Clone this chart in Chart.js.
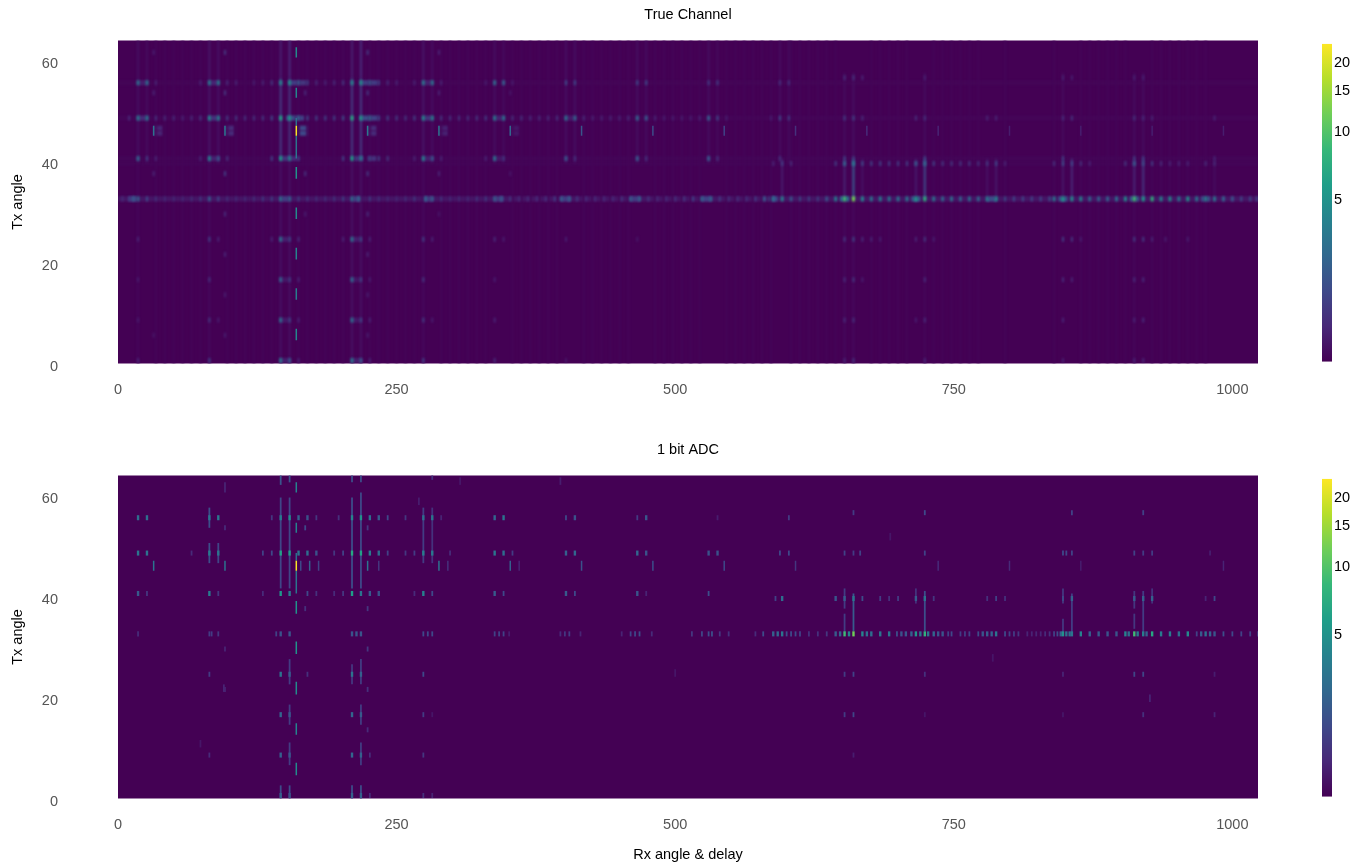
<!DOCTYPE html>
<html><head><meta charset="utf-8">
<script src="https://cdn.jsdelivr.net/npm/chart.js@4"></script>
<style>
html,body{margin:0;padding:0;background:#fff;width:1368px;height:867px;overflow:hidden}
.c{position:absolute}
</style></head><body>
<div class="c" style="left:0;top:0;width:1290px;height:430px"><canvas id="a"></canvas></div>
<div class="c" style="left:0;top:435px;width:1290px;height:432px"><canvas id="b"></canvas></div>
<div class="c" style="left:1290px;top:0;width:78px;height:400px"><canvas id="ca"></canvas></div>
<div class="c" style="left:1290px;top:435px;width:78px;height:400px"><canvas id="cb"></canvas></div>
<script>
// ---------- axis content
const titleTrue = "True Channel";
const titleAdc = "1 bit ADC";
const xLabel = "Rx angle & delay";
const yLabel = "Tx angle";
const xTicks = [0,250,500,750,1000];
const yTicks = [0,20,40,60];
const cbarTicks = [5,10,15,20];
const cbarTickPos = [0.512,0.727,0.855,0.943];
const valueKnots = [0,1,2.5,5,10,15,20,23.5];
const posKnots = [0,0.2,0.36,0.512,0.727,0.855,0.943,1];
const viridis = ["#440154","#482878","#3e4989","#31688e","#26828e","#1f9e89","#35b779","#6ece58","#b5de2b","#fde725"];

// ---------- True Channel: [col,value,...] per Tx row
const trueRow33 = [4,.6,10,.9,14,1.6,18,1.8,26,1.2,34,.8,42,.7,50,.7,58,.7,66,.8,74,1,82,1.8,90,1.2,98,.8,106,.7,114,.7,122,.8,130,1,138,1.2,146,2.6,154,2,162,1.1,170,.9,178,.8,186,.8,194,.9,202,1.2,210,2.4,216,2,226,1,234,.8,242,.7,250,.7,258,.8,266,1,276,1.9,282,1.7,290,.9,298,.7,306,.7,314,.7,322,.9,330,1,338,1.7,344,1.6,352,.8,360,.6,368,.6,376,.6,384,.7,392,.9,398,1.8,405,1.8,412,.8,420,.6,428,.6,436,.6,444,.6,452,.8,460,1.8,468,1.9,476,.8,484,.6,492,.6,500,.7,508,.8,516,1,524,2,532,2,540,.9,548,.7,556,.7,564,.7,572,.9,580,1.6,588,2.4,596,3.6,604,1.6,612,1.4,620,1.2,628,1.1,636,1.5,644,3.5,652,9,660,12.5,668,4,676,3,684,3.5,692,3,700,3,708,3,716,5.5,724,8,732,2.8,740,2.2,748,2.6,756,2,764,2.4,772,2.2,780,3.2,788,4,796,1.4,804,1.2,812,1.2,820,1.2,828,1.2,836,1.4,840,3,848,5.5,856,4.5,864,4,872,2.2,880,2,888,2,896,2.5,904,4.5,912,9,920,5.5,928,8,936,4,944,4.5,952,3,960,5,968,3,976,3.5,984,2.8,992,2,1000,1.5,1008,1.3,1016,1.2,1022,1];
const trueRow49 = [10,.6,18,3,26,3,34,.7,42,.6,50,.6,58,.5,66,.6,74,.8,82,4,90,3.5,98,.9,106,.8,114,.7,122,.7,130,.8,138,1.2,146,6.5,154,5.5,162,2,170,1.2,178,1,186,1,194,1,202,1.3,210,7,218,5.5,226,2,234,1.2,242,1,250,.9,258,.8,266,1,274,4,282,3.5,290,.8,298,.7,306,.7,314,.7,322,.8,330,.9,338,3,346,2.5,354,.7,362,.7,370,.6,378,.6,386,.6,394,.7,402,2.5,410,2,418,.6,426,.5,434,.5,442,.5,450,.5,458,.6,466,2,474,1.6,482,.5,490,.4,498,.4,506,.4,514,.4,522,.5,530,1.8,538,1.2,546,.4,586,.4,594,1.2,602,.9,652,.9,660,1,668,.6,716,.6,724,.7,780,.5,788,.5,848,.6,856,.7,912,.7,920,.6,928,.5,984,.5];
const trueRow56 = [18,2.4,26,2.4,34,.5,74,.5,82,3,90,3,98,.6,106,.5,122,.4,130,.5,138,.8,146,3.8,154,4.5,162,1.5,170,1,178,.6,186,.5,194,.6,202,.8,210,3.8,218,4.5,226,1.5,234,1,242,.6,250,.5,266,.5,274,2.8,282,2.6,290,.5,330,.4,338,2.2,346,1.8,354,.4,402,1.2,410,1.2,466,1.2,474,1.2,530,.9,538,.9,594,.7,602,.7];
const trueRow57 = [652,.6,660,.7,668,.5,724,.4,848,.4,856,.4,912,.4,920,.4];
const trueRow41 = [18,2,26,.9,34,.5,74,.5,82,3.5,90,1.5,98,.7,138,1,146,5.5,154,3.5,162,1,202,1,210,6,218,3,226,1.3,234,1,242,.8,266,.5,274,3.5,282,1.5,290,.5,330,.5,338,2.5,346,.9,402,1.5,410,.7,466,1.6,474,.7,530,1.6,538,.7,594,.7,652,1,660,.9,724,1,848,.9,912,.9,920,.9,984,.5];
const trueRow40 = [588,.5,596,.9,604,.6,644,.9,652,1.8,660,2.5,668,1.2,676,1,684,1,692,.9,700,.9,708,.9,716,1.5,724,2,732,1,740,.8,748,.8,756,.8,764,.8,772,.7,780,.8,788,1,796,.5,840,.7,848,1.2,856,1,864,.7,872,.5,904,.8,912,1.5,920,1.3,928,.9,936,.6,944,.5,952,.5,960,.5,976,.6,984,.6];
const trueRow25 = [18,.5,82,1,90,.5,138,.5,146,2.6,154,1.3,162,.6,202,.5,210,2.6,218,1.3,226,.5,274,1,282,.5,338,.6,346,.4,402,.4,466,.3,652,.8,660,1.1,668,.6,676,.5,684,.4,716,.5,724,.8,732,.4,848,.9,856,.8,864,.4,912,.9,920,.9,928,.5,940,.4,960,.4];
const trueRow17 = [18,.35,82,.7,146,2,154,1,162,.5,210,2.2,218,1.1,226,.4,274,.8,338,.4,652,.6,660,.8,668,.4,724,.6,848,.6,856,.5,912,.6,920,.6];
const trueRow9 = [18,.35,82,.8,90,.4,146,2.4,154,1.2,162,.5,210,2.4,218,1.2,226,.5,274,.9,282,.4,338,.5,652,.6,660,.7,716,.4,724,.6,848,.5,912,.5,920,.6];
const trueRow1 = [18,.5,82,1,146,3,154,1.5,162,.5,210,3,218,1.6,226,.5,274,1,338,.6,402,.3,652,.5,660,.7,724,.5,848,.4,912,.5,920,.5];
const trueRow62 = [32,.4,96,.8,224,.8,288,.5];
const trueRow54 = [32,.5,96,.8,168,.6,224,.8,288,.5,352,.3];
const trueRow38 = [32,.5,96,.9,168,.7,224,.8,288,.5,352,.3];
const trueRow30 = [96,.6,168,.4,224,.6,288,.3];
const trueRow22 = [96,.5,224,.5];
const trueRow14 = [96,.4,224,.4];
const trueRow6 = [32,.3,96,.4,224,.4];
const trueRows = [[33,trueRow33],[49,trueRow49],[56,trueRow56],[57,trueRow57],[41,trueRow41],[40,trueRow40],[25,trueRow25],[17,trueRow17],[9,trueRow9],[1,trueRow1],[62,trueRow62],[54,trueRow54],[38,trueRow38],[30,trueRow30],[22,trueRow22],[14,trueRow14],[6,trueRow6]];
// narrow marks: [col,rowLow,rowHigh,value]
const trueFine = [[160,45.5,47.5,23],[160,41,45.5,3],[160,47.5,49,2.5],[160,61,63,4.5],[160,53,55,4.2],[160,37,39.3,5],[160,29,31.3,4.5],[160,21,23.3,4],[160,13,15.3,3.6],[160,5,7.3,4.2],[32,45.5,47.5,2.8],[96,45.5,47.5,3.2],[224,45.5,47.5,3.2],[288,45.5,47.5,2.8],[352,45.5,47.5,2.2],[416,45.5,47.5,1.6],[480,45.5,47.5,1.3],[544,45.5,47.5,1],[608,45.5,47.5,.7],[672,45.5,47.5,.6],[736,45.5,47.5,.5],[800,45.5,47.5,.4],[864,45.5,47.5,.4],[928,45.5,47.5,.4],[992,45.5,47.5,.4]];
const trueStreaks = [[146,41,57,.8],[154,41,57,.75],[210,41,57,.8],[218,41,57,.8],[146,57,65,.4],[154,57,65,.55],[210,57,65,.4],[218,57,65,.55],[146,0,41,.22],[154,0,41,.22],[210,0,41,.22],[218,0,41,.22],[18,40,65,.18],[26,40,65,.15],[82,40,65,.28],[90,40,65,.22],[274,40,65,.28],[282,40,65,.18],[338,40,65,.18],[346,40,65,.14],[402,40,65,.18],[410,40,65,.18],[466,40,65,.18],[474,40,65,.15],[530,40,65,.18],[538,40,65,.13],[594,40,65,.16],[602,40,65,.13],[18,0,40,.07],[82,0,40,.12],[274,0,40,.12],[660,33,41,1.6],[652,33,41,.45],[724,33,41,1.1],[716,33,41,.32],[848,33,41,.28],[856,33,41,.5],[912,33,41,.5],[920,33,41,.7],[596,33,41,.35],[668,33,41,.22],[788,33,41,.3],[780,33,41,.22],[984,33,41,.16],[660,41,58,.18],[652,41,58,.16],[724,41,58,.16],[848,41,58,.14],[912,41,58,.16],[920,41,58,.16],[652,0,33,.12],[660,0,33,.12],[724,0,33,.08],[912,0,33,.08]];
const trueFaintCols = [34,42,50,58,66,74,98,106,114,122,130,138,162,170,178,186,194,202,226,234,242,250,258,266,290,298,306,314,322,330,354,362,370,378,386,394,418,426,434,442,450,458,482,490,498,506,514,522,546,554,562,570,578,586,604,612,620,628,636,644,676,684,692,700,708,732,740,748,756,764,772,796,840,864,872,880,888,896,904,928,936,944,952,960,968,976];
// wide soft blocks: [col,row,value]
const trueGlow = [[155,49,1.4],[163,49,1],[222,49,1.3],[230,49,1],[22,49,.6],[86,49,.7],[278,49,.7],[342,49,.45],[406,49,.35],[158,56,.9],[166,56,.8],[222,56,.9],[230,56,.9],[22,56,.4],[86,56,.5],[278,56,.45],[150,41,.7],[158,41,.55],[216,41,.7],[228,41,.7],[86,41,.45],[278,41,.4],[342,41,.3],[166,46,1.2],[166,47,1.2],[36,46,.5],[36,47,.5],[100,46,.6],[100,47,.6],[228,46,.6],[228,47,.6],[292,46,.45],[292,47,.45],[356,46,.3],[356,47,.3],[14,33,.9],[150,33,.9],[214,33,.9],[278,33,.8],[342,33,.8],[402,33,.9],[464,33,.9],[528,33,1],[588,33,1.2],[652,33,2.6],[716,33,1.8],[784,33,1.3],[848,33,1.5],[912,33,1.8],[976,33,1.4],[150,25,.4],[214,25,.4],[150,17,.28],[214,17,.28],[150,9,.32],[214,9,.32],[150,1,.4],[214,1,.4]];
// whole-row faint bands: [row,value]
const trueBands = [[33,.3],[49,.06],[56,.05],[41,.05],[40,.04]];

// ---------- 1 bit ADC
const adcRow33 = [18,.6,82,.9,84,.9,90,.8,142,1,146,1.5,154,1.6,210,1.6,214,1.6,218,1.6,274,1.2,278,1.2,282,1.2,338,1,342,1,346,1,351,.4,397,.6,401,.8,405,.9,415,.5,452,.5,460,1,464,1.1,468,1.3,479,.6,515,.8,524,1.1,530,1.3,533,1.4,540,.8,548,.7,572,.6,579,1.3,588,2,592,2.2,596,3,600,1.4,604,1.2,608,1.2,612,1,620,.7,628,.7,636,.8,644,1.8,648,2,652,9,656,4,660,12,668,4,672,2.5,676,2.5,684,3,692,3,699,1.4,703,1.5,707,1.6,712,2,716,5,720,3,724,8,727,3,732,2.2,736,1.6,740,1.6,745,1,748,1.2,756,.9,760,.9,764,1,772,1.3,776,1.6,780,1.8,784,2,788,3,796,1.2,800,1,804,.9,808,.8,816,.5,820,.5,824,.5,828,.5,832,.6,836,.7,840,1,843,1.3,846,2,848,5,851,2.5,854,2.5,856,3,864,4,872,2,880,1.8,888,1.6,896,1.6,904,4,907,2.5,912,9,915,3.5,920,3.5,923,2,928,7,936,3.5,944,3.5,952,2.5,960,4.5,968,1,972,1.8,976,2.5,980,2,984,1.6,992,1.4,1000,1.2,1008,1,1016,1,1023,.8];
const adcRow56 = [18,2.5,26,2.5,82,3,90,3.2,138,.8,146,3.5,154,4.5,162,2,170,1.5,178,.8,198,.7,210,4,218,5,226,2.5,234,1.8,242,1.2,258,.8,274,2.5,282,3,290,.5,338,2.2,346,3,402,1.2,410,1.5,466,.9,474,1.6,538,.4,602,.9];
const adcRow49 = [18,3,26,2.8,66,.6,82,3.5,90,3,130,1,138,1.2,146,6.5,154,6,162,3,170,2.5,178,1.5,194,.8,202,1,210,7,218,6.5,226,3.5,234,2.5,242,1,258,.8,266,.9,274,3.5,282,3.2,298,.6,338,3,346,2.5,354,.9,402,2,410,2.2,466,2.2,474,1.5,530,1.5,538,1.5,594,1.2,602,1.2,652,1,660,.9,666,1,724,1,848,1.2,851,1.1,856,1,912,1,920,.9,928,.9,980,.4];
const adcRow41 = [18,1.8,26,.8,82,3.5,90,.8,130,.6,146,5.5,154,3.5,170,1.2,178,.7,194,.6,202,.8,210,6,218,3,226,1.8,234,1.5,266,.6,274,3.8,282,1.2,338,1.8,346,1.2,402,1.8,410,1.2,466,1.6,474,.5,530,1.4];
const adcRow40 = [590,1,596,2.5,644,1.6,652,1.8,660,3,668,1.3,684,.9,692,.7,700,.9,716,1.8,724,2.8,732,.8,780,.7,788,1,796,.7,848,1.2,856,2,912,1.8,920,2,928,2,976,.5,984,1.2];
const adcRow25 = [82,.9,146,3,154,1.8,170,.7,210,2.8,218,2,274,1.2,652,.9,660,1,724,.7,848,.5,912,1.1,920,1.1,984,.4];
const adcRow17 = [146,2.2,154,1.6,210,2.2,218,1.8,274,.9,282,.3,652,.9,660,1.1,724,.3,848,.3,920,.7,984,.5];
const adcRow9 = [82,.6,146,2,154,1.6,210,2.2,218,2,226,.6,274,.8,660,.4];
const adcRow1 = [146,2,154,1.5,210,2,218,2,226,.6,274,.7,282,.5];
const adcRow57 = [660,.9,724,1.2,856,1,920,1];
const adcRow30 = [96,.5,224,.8];
const adcRow22 = [96,.5,224,.7];
const adcRow14 = [224,.6];
const adcRow54 = [168,1.2,96,.6,224,.8];
const adcRow38 = [168,.7,224,.8];
const adcRows = [[33,adcRow33],[56,adcRow56],[49,adcRow49],[41,adcRow41],[40,adcRow40],[25,adcRow25],[17,adcRow17],[9,adcRow9],[1,adcRow1],[57,adcRow57],[30,adcRow30],[22,adcRow22],[14,adcRow14],[54,adcRow54],[38,adcRow38]];
const adcFine = [[160,45.5,47.5,23],[160,41,45.5,3],[160,47.5,49,2.5],[160,61,63,4],[160,53,55,4],[160,37,39.5,5],[160,29,31.5,5],[160,21,23.5,4.5],[160,13,15.3,4],[160,5,7.5,4.5],[32,45.5,47.5,3],[96,45.5,47.5,2.8],[164,45.5,47.5,1.2],[172,45.5,47.5,2],[180,45.5,47.5,1],[224,45.5,47.5,3],[234,45.5,47.5,.8],[288,45.5,47.5,2.8],[296,45.5,47.5,.7],[352,45.5,47.5,2],[360,45.5,47.5,.5],[416,45.5,47.5,1.5],[480,45.5,47.5,1.4],[544,45.5,47.5,1.2],[608,45.5,47.5,.8],[736,45.5,47.5,.6],[800,45.5,47.5,.6],[864,45.5,47.5,.4],[992,45.5,47.5,.5]];
const adcStreaks = [[146,42,60,1.1],[146,62.5,65,1.6],[154,42,60,1.1],[154,63,65,1.5],[210,42,60,1.3],[218,42,61,1.2],[210,63,65,1.3],[218,63,65,1.3],[82,47,51,1.4],[82,54,58,1.4],[274,47,58,.9],[282,47,58,.7],[90,47,51,1.1],[660,33.5,41,1.8],[652,33,37,.9],[652,38,42,.9],[724,33.5,41.5,1.4],[716,39,42,.7],[848,33,36,.8],[848,39,42,.8],[856,33,41,.9],[912,34,37,.8],[912,38,41.5,.8],[920,33,41.5,.9],[928,39,42,.7],[154,7,11.5,.9],[154,15,19,.9],[154,23,28,.9],[218,7,11.5,.9],[218,15,19,.9],[218,23,28,.9],[210,23,27,.8],[146,0,3,1.3],[154,0,3,1.3],[210,0,3,1.3],[218,0,3,1.3],[96,61,63,.5],[270,58.5,60,.4],[693,51.5,53,.3],[785,27.5,29,.3],[926,19.5,21,.5],[500,24.5,26,.3],[74,10.5,12,.3],[95,21.5,23,.5],[282,63.5,65,.7],[397,62.5,64,.4],[307,62.5,64,.3]];
const adcFaintCols = [];
const adcGlow = [];
const adcBands = [];

// ---------- drawing helpers
function toPos(v){
  for(let i=1;i<valueKnots.length;i++){
    if(v<=valueKnots[i]){const t=(v-valueKnots[i-1])/(valueKnots[i]-valueKnots[i-1]);return posKnots[i-1]+t*(posKnots[i]-posKnots[i-1]);}
  }
  return 1;
}
function hex(c){return [1,3,5].map(i=>parseInt(c.substr(i,2),16));}
function colorOf(v){
  const p=toPos(v)*(viridis.length-1),i=Math.min(Math.floor(p),viridis.length-2),t=p-i;
  const a=hex(viridis[i]),b=hex(viridis[i+1]);
  return `rgb(${a.map((x,k)=>Math.round(x+(b[k]-x)*t)).join(",")})`;
}
function ds(items,thick){
  const s=items.slice().sort((p,q)=>p.v-q.v);
  return {data:s.map(o=>({x:o.c,y:[o.l,o.h]})),backgroundColor:s.map(o=>colorOf(o.v)),barThickness:thick,grouped:false,borderWidth:0,inflateAmount:0};
}
function panelDatasets(rows,fine,streaks,faint,glow,bands,spotW,weakW,streakW){
  const spots=[];
  rows.forEach(([r,a])=>{for(let i=0;i<a.length;i+=2)spots.push({c:a[i],l:r-.5,h:r+.5,v:a[i+1]});});
  const toItem=([c,l,h,v])=>({c,l,h,v});
  return [
    ds(fine.map(toItem),1.5),
    ds(spots.filter(o=>o.v>=1.5),spotW),
    ds(spots.filter(o=>o.v<1.5),weakW),
    ds(streaks.map(toItem),streakW),
    ds(faint.map(c=>({c,l:0,h:65,v:.06})),2),
    ds(glow.map(([c,r,v])=>({c,l:r-.5,h:r+.5,v})),9),
    ds(bands.map(([r,v])=>({c:511.5,l:r-.5,h:r+.5,v})),1140)
  ];
}
function softPlugin(blur){return {id:"soft",
  beforeDraw(ch){const {ctx,chartArea:a}=ch;ctx.save();ctx.fillStyle=viridis[0];ctx.fillRect(a.left,a.top,a.right-a.left,a.bottom-a.top);ctx.restore();},
  beforeDatasetDraw(ch,args){ch.ctx.filter=args.index===0?"none":`blur(${blur}px)`;},
  afterDatasetsDraw(ch){ch.ctx.filter="none";}
};}
const axisFont={family:"'Liberation Sans'",size:14.5};
function noPad(s){s.paddingTop=0;s.paddingBottom=0;s.paddingLeft=0;s.paddingRight=0;}
function panel(id,title,datasets,withX,xH,blur){
  new Chart(document.getElementById(id),{
    type:"bar",
    data:{datasets},
    plugins:[softPlugin(blur)],
    options:{
      responsive:true,maintainAspectRatio:false,animation:false,events:[],
      layout:{padding:{left:0,right:32,top:0,bottom:0}},
      plugins:{legend:{display:false},tooltip:{enabled:false},
        title:{display:true,fullSize:false,text:title,color:"#000",font:{...axisFont,weight:"normal",lineHeight:1.2},padding:{top:6.3,bottom:16.8}}},
      scales:{
        x:{type:"linear",offset:false,min:0,max:1023,grid:{display:false,drawTicks:false},border:{display:false},
          afterBuildTicks(s){s.ticks=xTicks.map(value=>({value}));},
          ticks:{color:"#555",font:axisFont,padding:17.5,maxRotation:0,autoSkip:false,callback(v){return String(v);}},
          title:{display:withX,text:xLabel,color:"#000",font:{...axisFont,lineHeight:1.2},padding:{top:0,bottom:3.3}},
          afterFit(s){s.height=xH;noPad(s);}},
        y:{type:"linear",min:0.4,max:64.36,grid:{display:false,drawTicks:false},border:{display:false},
          afterBuildTicks(s){s.ticks=yTicks.map(value=>({value}));},
          ticks:{color:"#555",font:axisFont,padding:60,labelOffset:1,autoSkip:false,callback(v){return String(v);}},
          title:{display:true,text:yLabel,color:"#000",font:{...axisFont,lineHeight:1.2},padding:{top:9.3,bottom:0}},
          afterFit(s){s.width=118;noPad(s);}}
      }
    }
  });
}
function colorbar(id){
  new Chart(document.getElementById(id),{
    type:"bar",
    data:{datasets:[{data:[{x:0.5,y:[0,1]}],barPercentage:1,categoryPercentage:1,barThickness:10,inflateAmount:0,borderWidth:0,
      backgroundColor(c){const a=c.chart.chartArea;if(!a)return viridis[0];
        const g=c.chart.ctx.createLinearGradient(0,a.bottom,0,a.top);
        viridis.forEach((h,i)=>g.addColorStop(i/(viridis.length-1),h));return g;}}]},
    options:{
      responsive:true,maintainAspectRatio:false,animation:false,events:[],
      layout:{padding:{left:32,right:0,top:43.7,bottom:38.3}},
      plugins:{legend:{display:false},tooltip:{enabled:false},title:{display:false}},
      scales:{
        x:{type:"linear",offset:false,min:0,max:1,display:false},
        y:{type:"linear",position:"right",min:0,max:1,grid:{display:false,drawTicks:false},border:{display:false},
          afterBuildTicks(s){s.ticks=cbarTickPos.map(value=>({value}));},
          ticks:{color:"#000",font:axisFont,padding:2,labelOffset:1,autoSkip:false,callback(v){return String(cbarTicks[cbarTickPos.indexOf(v)]);}},
          afterFit(s){s.width=36;}}
      }
    }
  });
}
panel("a",titleTrue,panelDatasets(trueRows,trueFine,trueStreaks,trueFaintCols,trueGlow,trueBands,3,2,2.2),false,66.5,0.8);
panel("b",titleAdc,panelDatasets(adcRows,adcFine,adcStreaks,adcFaintCols,adcGlow,adcBands,2.4,1.8,1.8),true,68.5,0.6);
colorbar("ca");colorbar("cb");
</script>
</body></html>
